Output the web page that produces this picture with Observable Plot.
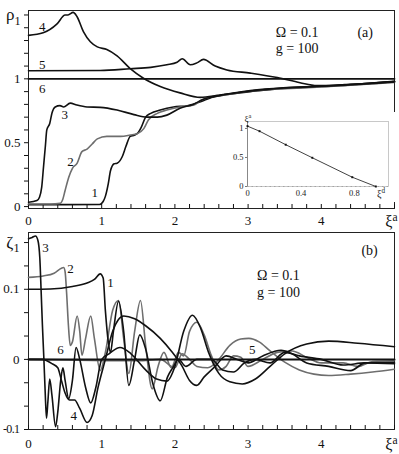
<!DOCTYPE html>
<html><head><meta charset="utf-8">
<script src="https://cdn.jsdelivr.net/npm/d3@7"></script>
<script src="https://cdn.jsdelivr.net/npm/@observablehq/plot@0.6"></script>
<style>
html,body{margin:0;padding:0;background:#fff;}
#wrap{position:relative;width:399px;height:454px;overflow:hidden;font-family:"Liberation Serif",serif;}
#wrap > div, #wrap > svg{position:absolute;overflow:visible;}
</style>
</head><body><div id="wrap"></div>
<script>
// ---------- shared axis ticks ----------
const xiTicks = d3.range(0, 26).map(i => i / 5);          // 0 .. 5 every 0.2
const xiLabels = {0: "0", 1: "1", 2: "2", 3: "3", 4: "4", 5: "ξ^a"};
const rhoTicks = d3.range(0, 16).map(i => i / 10);         // 0 .. 1.5
const rhoLabels = {0: "0", 5: "0.5", 10: "1", 15: "ρ_1"};
const zetaTicks = d3.range(-3, 6).map(i => i / 30);         // -0.1 .. 0.1667
const zetaLabels = {"-3": "-0.1", 0: "0", 3: "0.1", 5: "ζ_1"};

// ---------- panel (a): rho_1 vs xi^a ----------
const a1 = [[0,0.015],[0.5,0.015],[0.97,0.016],[1.02,0.04],[1.05,0.08],[1.09,0.18],[1.12,0.28],[1.17,0.335],[1.21,0.34],[1.25,0.36],[1.28,0.39],[1.33,0.47],[1.39,0.55],[1.45,0.56],[1.5,0.58],[1.54,0.62],[1.6,0.70],[1.67,0.73],[1.8,0.756],[1.98,0.78],[2.17,0.79],[2.35,0.82],[2.5,0.855],[2.7,0.875],[3.03,0.9],[3.3,0.915],[3.48,0.925],[3.7,0.93],[3.94,0.938],[4.2,0.945],[4.4,0.952],[4.7,0.962],[5,0.975]];
const a2 = [[0,0.02],[0.3,0.02],[0.43,0.025],[0.47,0.06],[0.5,0.126],[0.55,0.23],[0.6,0.30],[0.665,0.34],[0.73,0.43],[0.8,0.45],[0.87,0.49],[0.94,0.53],[1.07,0.55],[1.26,0.55],[1.39,0.56],[1.485,0.57],[1.575,0.61],[1.64,0.68],[1.76,0.73],[1.89,0.756],[2.07,0.78],[2.26,0.795],[2.35,0.83],[2.5,0.86],[2.75,0.88],[3.03,0.905],[3.5,0.922],[3.94,0.935],[4.4,0.95],[5,0.972]];
const a3 = [[0,0.034],[0.115,0.047],[0.15,0.073],[0.18,0.15],[0.205,0.31],[0.23,0.47],[0.25,0.6],[0.29,0.65],[0.32,0.73],[0.365,0.78],[0.43,0.79],[0.48,0.78],[0.57,0.81],[0.66,0.795],[0.8,0.78],[0.98,0.777],[1.21,0.756],[1.44,0.72],[1.62,0.70],[1.76,0.70],[1.89,0.716],[2.07,0.77],[2.25,0.80],[2.39,0.84],[2.6,0.868],[3.03,0.905],[3.48,0.928],[3.94,0.94],[4.4,0.956],[5,0.978]];
const a4 = [[0,1.34],[0.2,1.36],[0.39,1.43],[0.5,1.50],[0.54,1.50],[0.61,1.52],[0.66,1.49],[0.75,1.37],[0.845,1.29],[0.94,1.25],[1.07,1.23],[1.21,1.18],[1.39,1.08],[1.57,1.005],[1.8,0.94],[2.07,0.89],[2.35,0.855],[2.6,0.872],[3.03,0.908],[3.48,0.93],[3.94,0.942],[4.4,0.955],[5,0.98]];
const a5 = [[0,1.063],[0.98,1.065],[1.39,1.079],[1.67,1.09],[1.89,1.11],[2.03,1.13],[2.10,1.157],[2.21,1.11],[2.3,1.125],[2.39,1.152],[2.55,1.10],[2.71,1.07],[3.03,1.045],[3.4,1.01],[3.71,0.97],[3.94,0.948],[4.2,0.95],[4.4,0.958],[4.7,0.966],[5,0.978]];
const a6 = [[0,1],[5,1]];
const seriesA = [
  {id: "1", pts: a1, color: "#111"},
  {id: "2", pts: a2, color: "#6e6e6e"},
  {id: "3", pts: a3, color: "#111"},
  {id: "4", pts: a4, color: "#111"},
  {id: "5", pts: a5, color: "#111"},
  {id: "6", pts: a6, color: "#111"}
];
const curveLabelsA = [
  {t: "4", x: 0.187, y: 1.404}, {t: "5", x: 0.187, y: 1.11}, {t: "6", x: 0.187, y: 0.924},
  {t: "3", x: 0.496, y: 0.72}, {t: "2", x: 0.574, y: 0.347}, {t: "1", x: 0.906, y: 0.104}
];
const notesA = [
  {t: "Ω = 0.1", x: 3.67, y: 1.36, anchor: "start"},
  {t: "g = 100", x: 3.67, y: 1.235, anchor: "start"},
  {t: "(a)", x: 4.6, y: 1.36, anchor: "middle"}
];

// ---------- inset: xi^a vs xi^d ----------
const insetD = [0, 0.09, 0.286, 0.485, 0.784, 0.96];
const insetA = [1.04, 0.953, 0.72, 0.495, 0.16, 0];
const insetXTicks = d3.range(0, 11).map(i => i / 10);
const insetXLabels = {0: "0", 4: "0.4", 8: "0.8", 10: "ξ^d"};
const insetYTicks = [0, 0.5, 1];

// ---------- panel (b): zeta_1 vs xi^a ----------
const b1 = [[0,0.100],[0.3,0.1005],[0.6,0.104],[0.8,0.109],[0.9,0.114],[0.98,0.122],[1.02,0.116],[1.05,0.07],[1.09,0.025],[1.12,0.01],[1.16,0.04],[1.23,0.083],[1.3,0.04],[1.37,-0.037],[1.45,0.0],[1.52,0.035],[1.6,0.015],[1.7,-0.035],[1.8,-0.059],[1.9,-0.025],[1.97,-0.012],[2.05,0.0],[2.15,-0.01],[2.3,0.0],[2.5,0.0],[2.65,-0.015],[2.8,-0.018],[2.95,-0.005],[3.1,0.0],[3.3,-0.005],[3.5,0.01],[3.7,0.005],[4.0,0.0],[4.3,-0.008],[4.6,-0.005],[5,-0.006]];
const b2 = [[0,0.117],[0.2,0.119],[0.35,0.123],[0.45,0.13],[0.48,0.131],[0.5,0.125],[0.52,0.096],[0.545,0.049],[0.57,0.02],[0.6,0.025],[0.665,0.062],[0.7,0.04],[0.73,0.006],[0.78,0.03],[0.85,0.062],[0.9,0.03],[0.98,-0.016],[1.05,0.01],[1.15,0.07],[1.23,0.084],[1.3,0.03],[1.37,-0.02],[1.45,0.04],[1.53,0.084],[1.6,0.02],[1.69,-0.042],[1.77,-0.01],[1.85,0.01],[1.95,-0.012],[2.05,0.01],[2.12,0.005],[2.2,0.04],[2.3,0.053],[2.4,0.035],[2.5,0.005],[2.6,-0.015],[2.7,-0.01],[2.8,0.005],[2.9,0.003],[3.0,-0.01],[3.2,0.0],[3.4,0.01],[3.6,0.012],[3.8,0.003],[4.0,-0.005],[4.3,-0.005],[4.5,-0.01],[4.7,-0.003],[5,-0.002]];
const b3 = [[0,0.172],[0.05,0.174],[0.096,0.176],[0.128,0.170],[0.155,0.144],[0.173,0.096],[0.19,0.049],[0.21,0.001],[0.228,-0.047],[0.246,-0.084],[0.265,-0.06],[0.29,-0.028],[0.32,-0.051],[0.37,-0.096],[0.40,-0.075],[0.44,-0.03],[0.47,-0.012],[0.5,-0.03],[0.55,-0.056],[0.6,-0.03],[0.65,0.017],[0.7,0.0],[0.78,-0.04],[0.85,-0.062],[0.92,-0.04],[1.0,0.0],[1.1,0.008],[1.25,0.017],[1.4,0.008],[1.6,-0.015],[1.75,-0.028],[1.89,-0.031],[2.0,-0.01],[2.12,0.04],[2.24,0.063],[2.35,0.045],[2.46,0.01],[2.6,-0.02],[2.75,-0.032],[2.92,-0.035],[3.1,-0.028],[3.3,-0.01],[3.5,0.008],[3.8,0.022],[4.1,0.026],[4.5,0.023],[5,0.018]];
const b4 = [[0,0],[0.2,0],[0.25,-0.002],[0.32,-0.006],[0.4,-0.012],[0.45,-0.03],[0.5,-0.048],[0.56,-0.058],[0.63,-0.058],[0.7,-0.07],[0.8,-0.09],[0.87,-0.08],[0.95,-0.04],[1.05,0.0],[1.15,0.04],[1.3,0.062],[1.45,0.058],[1.6,0.048],[1.8,0.03],[1.95,0.012],[2.1,-0.01],[2.2,-0.03],[2.3,-0.037],[2.4,-0.025],[2.55,-0.01],[2.7,0.005],[2.85,0.0],[3.0,-0.005],[3.2,0.005],[3.45,0.013],[3.6,0.008],[3.8,-0.005],[4.1,-0.01],[4.4,-0.016],[4.6,-0.005],[5,-0.004]];
const b5 = [[0,0],[1.5,-0.002],[1.8,0.0],[2.0,-0.012],[2.1,0.008],[2.2,0.0],[2.3,-0.01],[2.45,-0.012],[2.6,0.0],[2.75,0.02],[2.9,0.029],[3.01,0.03],[3.15,0.025],[3.3,0.012],[3.5,-0.004],[3.7,-0.015],[3.9,-0.021],[4.1,-0.023],[4.4,-0.021],[4.7,-0.018],[5,-0.014]];
const b6 = [[0,0],[5,0]];
const seriesB = [
  {id: "5", pts: b5, color: "#6e6e6e"},
  {id: "2", pts: b2, color: "#6e6e6e"},
  {id: "1", pts: b1, color: "#111"},
  {id: "3", pts: b3, color: "#111"},
  {id: "4", pts: b4, color: "#111"},
  {id: "6", pts: b6, color: "#111"}
];
const curveLabelsB = [
  {t: "3", x: 0.232, y: 0.159}, {t: "2", x: 0.574, y: 0.1296}, {t: "1", x: 1.12, y: 0.1095},
  {t: "6", x: 0.437, y: 0.0143}, {t: "4", x: 0.619, y: -0.081}, {t: "5", x: 3.056, y: 0.0143}
];
const notesB = [
  {t: "(b)", x: 4.66, y: 0.156, anchor: "middle"},
  {t: "Ω = 0.1", x: 3.415, y: 0.12, anchor: "start"},
  {t: "g = 100", x: 3.415, y: 0.0957, anchor: "start"}
];

// ---------- helpers ----------
function richText(svg) {
  d3.select(svg).selectAll("text").each(function () {
    const el = d3.select(this);
    if (el.selectAll("tspan").size() > 0) return;
    const s = el.text();
    const m = s.match(/^(.*)([\^_])(.+)$/);
    if (!m) return;
    el.text(m[1]);
    const sub = m[2] === "_";
    el.append("tspan").attr("dy", sub ? "0.35em" : "-0.55em").attr("font-size", "72%").text(m[3]);
    el.attr("data-rich", s);
  });
}
const place = (node, left, top) => { node.style.left = left + "px"; node.style.top = top + "px"; return node; };
const wrap = document.getElementById("wrap");
const serif = "'Liberation Serif', 'Times New Roman', serif";

// ---------- build panel (a) ----------
const plotA = Plot.plot({
  width: 399, height: 232,
  marginLeft: 28, marginRight: 5, marginTop: 10, marginBottom: 24,
  x: {domain: [0, 5], label: null},
  y: {domain: [-0.015, 1.535], label: null},
  style: {fontFamily: serif, fontSize: "13px", background: "transparent", color: "#111", overflow: "visible"},
  marks: [
    Plot.frame({stroke: "#222", strokeWidth: 1}),
    Plot.axisX({ticks: xiTicks, label: null, tickSize: -4, tickPadding: 11, tickFormat: d => xiLabels[Math.round(d * 5) / 5] ?? "", stroke: "#111"}),
    Plot.axisY({ticks: rhoTicks, label: null, tickSize: 4, tickPadding: 4, tickFormat: d => rhoLabels[Math.round(d * 10)] ?? "", stroke: "#111"}),
    ...seriesA.map(s => Plot.line(s.pts, {x: d => d[0], y: d => d[1], stroke: s.color, strokeWidth: s.id === "6" ? 1.8 : 1.6, curve: "monotone-x"})),
    Plot.text(curveLabelsA, {x: "x", y: "y", text: "t", fontSize: 13, fill: "#111"}),
    Plot.text(notesA, {x: "x", y: "y", text: "t", textAnchor: "anchor", fontSize: 14, fill: "#111"})
  ]
});
richText(plotA);
plotA.querySelectorAll("text[data-rich]").forEach(t => {
  const r = t.getAttribute("data-rich");
  if (r === "ρ_1") { t.setAttribute("font-size", "17"); }
  if (r === "ξ^a") { t.setAttribute("font-size", "16"); t.setAttribute("text-anchor", "end"); t.setAttribute("dx", "3"); }
});
wrap.appendChild(place(plotA, 0, 0));

// ---------- build inset ----------
const insetRows = insetD.map((d, i) => ({d, a: insetA[i]}));
const plotI = Plot.plot({
  width: 170, height: 90,
  marginLeft: 22, marginRight: 7, marginTop: 9, marginBottom: 16,
  x: {domain: [0, 1.055], label: null},
  y: {domain: [0, 1.12], label: null},
  style: {fontFamily: serif, fontSize: "8.5px", background: "white", color: "#222", overflow: "visible"},
  marks: [
    Plot.frame({stroke: "#bbb", strokeWidth: 0.8}),
    Plot.ruleX([0], {stroke: "#777", strokeWidth: 0.8}),
    Plot.ruleY([0], {stroke: "#999", strokeWidth: 0.8, strokeDasharray: "1.5,3"}),
    Plot.axisX({ticks: insetXTicks, label: null, tickSize: 0, tickPadding: 3, tickFormat: d => insetXLabels[Math.round(d * 10)] ?? ""}),
    Plot.axisY({ticks: insetYTicks, label: null, tickSize: 2, tickPadding: 2, tickFormat: d => String(d), stroke: "#777"}),
    Plot.line(insetRows, {x: "d", y: "a", stroke: "#111", strokeWidth: 0.8}),
    Plot.dot(insetRows, {x: "d", y: "a", r: 1.1, fill: "#111", symbol: "square"}),
    Plot.text(["ξ^a"], {frameAnchor: "top-left", text: d => d, dx: -3, dy: -6, fontSize: 9, fill: "#222"})
  ]
});
richText(plotI);
plotI.querySelectorAll("text[data-rich]").forEach(t => {
  if (t.getAttribute("data-rich") === "ξ^d") { t.setAttribute("font-size", "10"); }
});
wrap.appendChild(place(plotI, 225, 112));

// ---------- build panel (b) ----------
const plotB = Plot.plot({
  width: 399, height: 232,
  marginLeft: 28, marginRight: 5, marginTop: 10, marginBottom: 25,
  x: {domain: [0, 5], label: null},
  y: {domain: [-0.1, 0.181], label: null},
  style: {fontFamily: serif, fontSize: "13px", background: "transparent", color: "#111", overflow: "visible"},
  marks: [
    Plot.frame({stroke: "#222", strokeWidth: 1}),
    Plot.axisX({ticks: xiTicks, label: null, tickSize: -4, tickPadding: 13, tickFormat: d => xiLabels[Math.round(d * 5) / 5] ?? "", stroke: "#111"}),
    Plot.axisY({ticks: zetaTicks, label: null, tickSize: 4, tickPadding: 5, tickFormat: d => zetaLabels[Math.round(d * 30)] ?? "", stroke: "#111"}),
    ...seriesB.map(s => Plot.line(s.pts, {x: d => d[0], y: d => d[1], stroke: s.color, strokeWidth: s.id === "6" ? 2 : 1.6, curve: "monotone-x"})),
    Plot.text(curveLabelsB, {x: "x", y: "y", text: "t", fontSize: 13, fill: "#111"}),
    Plot.text(notesB, {x: "x", y: "y", text: "t", textAnchor: "anchor", fontSize: 14, fill: "#111"})
  ]
});
richText(plotB);
plotB.querySelectorAll("text[data-rich]").forEach(t => {
  const r = t.getAttribute("data-rich");
  if (r === "ζ_1") { t.setAttribute("font-size", "17"); }
  if (r === "ξ^a") { t.setAttribute("font-size", "16"); t.setAttribute("text-anchor", "end"); t.setAttribute("dx", "3"); }
});
plotB.querySelectorAll("text").forEach(t => {
  if (t.textContent === "-0.1") { t.setAttribute("font-size", "12"); t.setAttribute("letter-spacing", "-0.6"); }
});
wrap.appendChild(place(plotB, 0, 222));
</script>
</body></html>
